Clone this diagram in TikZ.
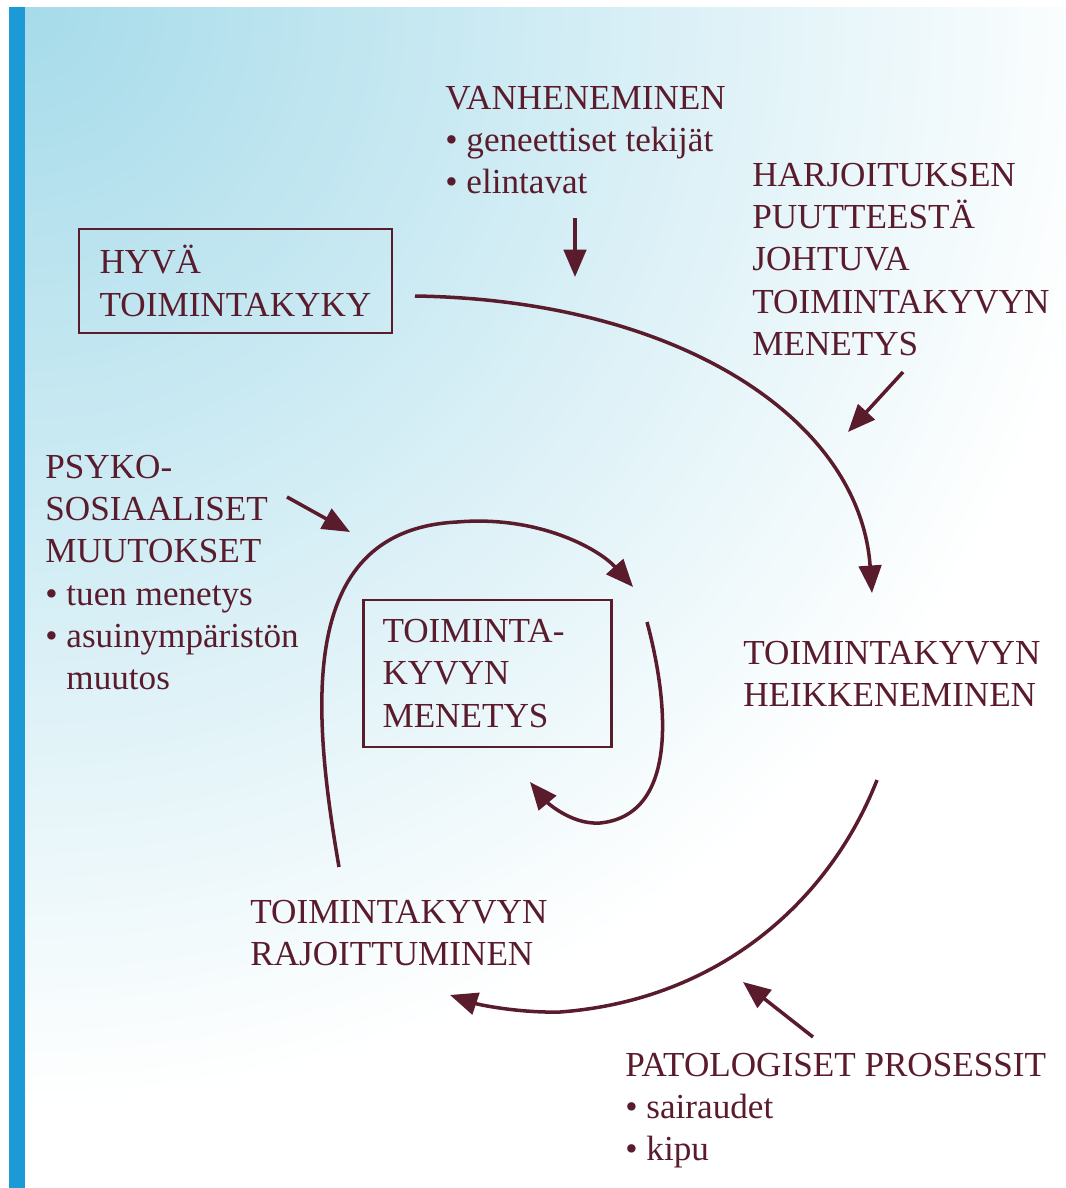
\documentclass[tikz,border=0pt]{standalone}
\usepackage{fontspec}
\setmainfont{Liberation Serif}
\usetikzlibrary{arrows.meta}
\definecolor{wine}{HTML}{5A1C2C}
\definecolor{paleblue}{HTML}{A6DBEA}
\definecolor{stripblue}{HTML}{1C9AD6}

\begin{document}
\begin{tikzpicture}[x=0.02cm, y=-0.02cm, >={Triangle[length=5.5mm, width=4.5mm]},
  lbl/.style={font=\fontsize{20}{24}\selectfont, text=wine, align=left, inner sep=0pt, anchor=north west},
  box/.style={draw=wine, line width=1.6pt, font=\fontsize{20}{24}\selectfont, text=wine, align=left, inner xsep=0.4cm, inner ysep=0pt},
  flow/.style={->, wine, line width=2pt}]

% Background
\useasboundingbox (0,0) rectangle (1066,1188);
\fill[white] (0,0) rectangle (1066,1188);
\begin{scope}
  \clip (24,7) rectangle (1066,1188);
  \shade[inner color=paleblue, outer color=white] (24,7) circle (22cm);
\end{scope}
\fill[stripblue] (9,7) rectangle (25,1188);

% ========== Boxes ==========
\node[box, minimum width=6.26cm, minimum height=2.08cm] (hyva) at (235.5,281) {HYVÄ\\TOIMINTAKYKY};
\node[box, text width=4.2cm, inner xsep=0.38cm, minimum height=2.94cm] (menetys) at (487.5,673.5) {TOIMINTA-\\KYVYN\\MENETYS};

% ========== Labels ==========
\node[lbl] (vanh) at (445,86) {VANHENEMINEN\\• geneettiset tekijät\\• elintavat};
\node[lbl] (harj) at (752,163) {HARJOITUKSEN\\PUUTTEESTÄ\\JOHTUVA\\TOIMINTAKYVYN\\MENETYS};
\node[lbl] (psyko) at (45,455) {PSYKO-\\SOSIAALISET\\MUUTOKSET\\• tuen menetys\\• asuinympäristön\\\phantom{• }muutos};
\node[lbl] (heik) at (743,641) {TOIMINTAKYVYN\\HEIKKENEMINEN};
\node[lbl] (rajo) at (250,900) {TOIMINTAKYVYN\\RAJOITTUMINEN};
\node[lbl] (pato) at (625,1053) {PATOLOGISET PROSESSIT\\• sairaudet\\• kipu};

% ========== Cycle ==========
\coordinate (hyvaOut) at (415,296);
\coordinate (heikIn) at (872,593);
\coordinate (heikOut) at (877,780);
\coordinate (rajoIn) at (450,995);
\coordinate (rajoOut) at (339,867);
\coordinate (menIn) at (633,587);
\coordinate (loopOut) at (647,622);
\coordinate (loopIn) at (530,782);

\draw[flow] (hyvaOut) .. controls (680,300) and (860,420) .. (heikIn);
\draw[flow] (heikOut) .. controls (830,900) and (720,1000) .. (560,1012)
  .. controls (520,1013) and (480,1005) .. (rajoIn);
\draw[flow] (rajoOut) .. controls (310,700) and (300,530) .. (457,522)
  .. controls (540,515) and (600,550) .. (menIn);
\draw[flow] (loopOut) .. controls (668,700) and (680,815) .. (600,823)
  .. controls (570,825) and (545,800) .. (loopIn);

% ========== Influences ==========
\coordinate (vanhTail) at (575,218);
\coordinate (vanhTip) at (575,277);
\coordinate (harjTail) at (903,372);
\coordinate (harjTip) at (848,432);
\coordinate (psykoTail) at (287,497);
\coordinate (psykoTip) at (350,532);
\coordinate (patoTail) at (813,1037);
\coordinate (patoTip) at (743,982);

\draw[flow] (vanhTail) -- (vanhTip);
\draw[flow] (harjTail) -- (harjTip);
\draw[flow] (psykoTail) -- (psykoTip);
\draw[flow] (patoTail) -- (patoTip);

\end{tikzpicture}
\end{document}
